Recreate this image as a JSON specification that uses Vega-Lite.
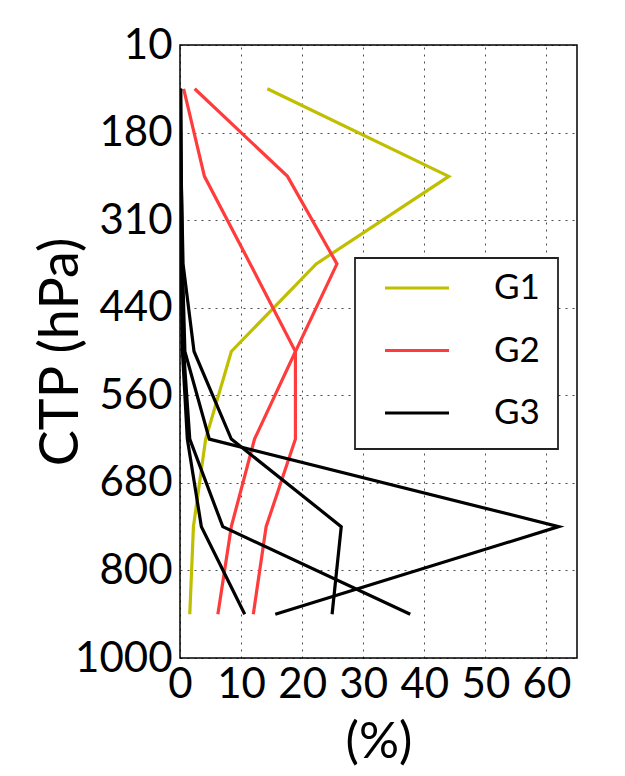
{
  "$schema": "https://vega.github.io/schema/vega-lite/v6.json",
  "width": 397,
  "height": 613,
  "autosize": {"type": "none"},
  "padding": {"left": 180, "top": 45, "right": 48, "bottom": 118},
  "background": "white",
  "config": {
    "font": "Lato",
    "view": {"stroke": "#000", "strokeWidth": 1.5},
    "axis": {
      "labelFont": "Lato",
      "titleFont": "Lato",
      "labelColor": "#000",
      "titleColor": "#000",
      "labelFontWeight": "normal",
      "titleFontWeight": "normal",
      "domain": false,
      "ticks": false,
      "grid": true,
      "gridColor": "#000",
      "gridOpacity": 0.7,
      "gridWidth": 1
    }
  },
  "data": {
    "values": [
      {"group": "G1", "line": "g1", "p": 95, "v": 14.3},
      {"group": "G1", "line": "g1", "p": 245, "v": 44.0},
      {"group": "G1", "line": "g1", "p": 375, "v": 22.3},
      {"group": "G1", "line": "g1", "p": 500, "v": 8.4},
      {"group": "G1", "line": "g1", "p": 620, "v": 4.2},
      {"group": "G1", "line": "g1", "p": 740, "v": 2.2},
      {"group": "G1", "line": "g1", "p": 900, "v": 1.6},
      {"group": "G2", "line": "g2a", "p": 95, "v": 2.4},
      {"group": "G2", "line": "g2a", "p": 245, "v": 17.6},
      {"group": "G2", "line": "g2a", "p": 375, "v": 25.7},
      {"group": "G2", "line": "g2a", "p": 500, "v": 18.9},
      {"group": "G2", "line": "g2a", "p": 620, "v": 18.9},
      {"group": "G2", "line": "g2a", "p": 740, "v": 14.1},
      {"group": "G2", "line": "g2a", "p": 900, "v": 12.0},
      {"group": "G2", "line": "g2b", "p": 95, "v": 0.6},
      {"group": "G2", "line": "g2b", "p": 245, "v": 4.0},
      {"group": "G2", "line": "g2b", "p": 375, "v": 11.5},
      {"group": "G2", "line": "g2b", "p": 500, "v": 18.9},
      {"group": "G2", "line": "g2b", "p": 620, "v": 12.2},
      {"group": "G2", "line": "g2b", "p": 740, "v": 8.4},
      {"group": "G2", "line": "g2b", "p": 900, "v": 6.2},
      {"group": "G3", "line": "g3a", "p": 95, "v": 0.1},
      {"group": "G3", "line": "g3a", "p": 245, "v": 0.2},
      {"group": "G3", "line": "g3a", "p": 375, "v": 0.4},
      {"group": "G3", "line": "g3a", "p": 500, "v": 0.8},
      {"group": "G3", "line": "g3a", "p": 620, "v": 4.8},
      {"group": "G3", "line": "g3a", "p": 740, "v": 62.0},
      {"group": "G3", "line": "g3a", "p": 900, "v": 15.6},
      {"group": "G3", "line": "g3b", "p": 95, "v": 0.1},
      {"group": "G3", "line": "g3b", "p": 245, "v": 0.2},
      {"group": "G3", "line": "g3b", "p": 375, "v": 0.5},
      {"group": "G3", "line": "g3b", "p": 500, "v": 2.3},
      {"group": "G3", "line": "g3b", "p": 620, "v": 8.4},
      {"group": "G3", "line": "g3b", "p": 740, "v": 26.4},
      {"group": "G3", "line": "g3b", "p": 900, "v": 24.9},
      {"group": "G3", "line": "g3c", "p": 95, "v": 0.0},
      {"group": "G3", "line": "g3c", "p": 245, "v": 0.1},
      {"group": "G3", "line": "g3c", "p": 375, "v": 0.2},
      {"group": "G3", "line": "g3c", "p": 500, "v": 0.4},
      {"group": "G3", "line": "g3c", "p": 620, "v": 1.2},
      {"group": "G3", "line": "g3c", "p": 740, "v": 3.5},
      {"group": "G3", "line": "g3c", "p": 900, "v": 10.6},
      {"group": "G3", "line": "g3d", "p": 95, "v": 0.0},
      {"group": "G3", "line": "g3d", "p": 245, "v": 0.1},
      {"group": "G3", "line": "g3d", "p": 375, "v": 0.3},
      {"group": "G3", "line": "g3d", "p": 500, "v": 0.6},
      {"group": "G3", "line": "g3d", "p": 620, "v": 1.6},
      {"group": "G3", "line": "g3d", "p": 740, "v": 7.0},
      {"group": "G3", "line": "g3d", "p": 900, "v": 37.7}
    ]
  },
  "mark": {"type": "line", "strokeWidth": 3.2, "clip": true},
  "encoding": {
    "x": {
      "field": "v",
      "type": "quantitative",
      "scale": {"domain": [0, 65], "nice": false, "zero": false},
      "axis": {
        "title": "(%)",
        "values": [0, 10, 20, 30, 40, 50, 60],
        "gridDash": [2, 5],
        "labelFontSize": 42,
        "labelPadding": 6,
        "labelFlush": false,
        "labelOverlap": false,
        "titleFontSize": 50,
        "titlePadding": 12
      }
    },
    "y": {
      "field": "p",
      "type": "quantitative",
      "scale": {
        "domain": [10, 180, 310, 440, 560, 680, 800, 1000],
        "range": [0, 87.57, 175.14, 262.71, 350.29, 437.86, 525.43, 613],
        "nice": false,
        "zero": false
      },
      "axis": {
        "title": "CTP (hPa)",
        "values": [10, 180, 310, 440, 560, 680, 800, 1000],
        "format": "d",
        "gridDash": [2, 5],
        "labelFontSize": 42,
        "labelPadding": 8,
        "labelFlush": false,
        "labelOverlap": false,
        "titleFontSize": 54,
        "titlePadding": -14
      }
    },
    "color": {
      "field": "group",
      "type": "nominal",
      "scale": {"domain": ["G1", "G2", "G3"], "range": ["#bfbf00", "#ff3c3c", "#000000"]},
      "legend": {
        "title": null,
        "orient": "none",
        "legendX": 175,
        "legendY": 213,
        "padding": 18,
        "strokeColor": "#222",
        "fillColor": "white",
        "symbolType": "stroke",
        "symbolSize": 4096,
        "symbolStrokeWidth": 3.2,
        "symbolOffset": 10,
        "clipHeight": 24,
        "rowPadding": 27.5,
        "labelOffset": 43,
        "labelFont": "Lato",
        "labelFontSize": 35,
        "labelColor": "#000",
        "encode": {"legend": {"update": {"strokeWidth": {"value": 1.8}}}}
      }
    },
    "detail": {"field": "line", "type": "nominal"},
    "order": {"field": "p", "type": "quantitative"}
  }
}
